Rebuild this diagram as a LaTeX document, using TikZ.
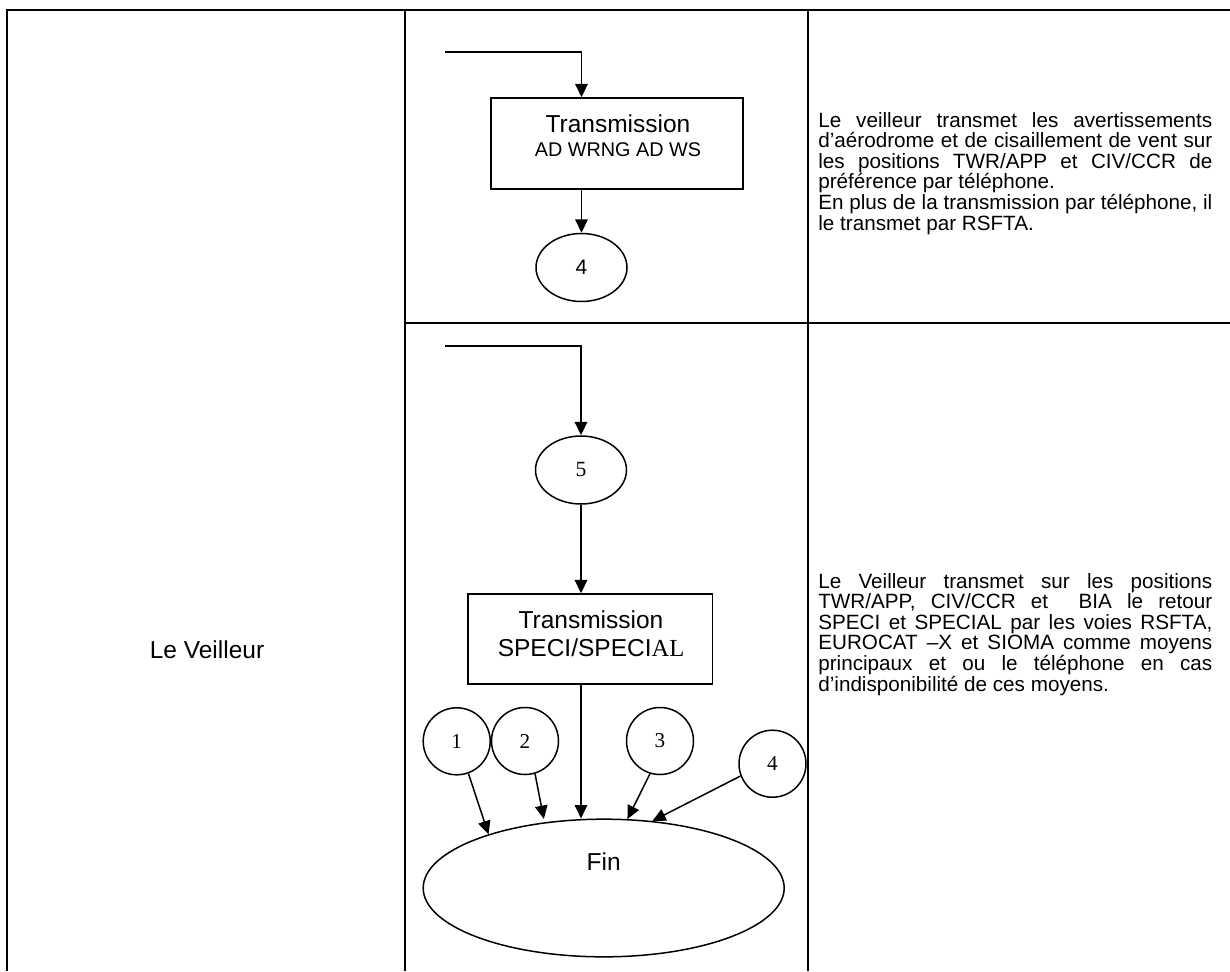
\documentclass[tikz,border=0pt]{standalone}
\usepackage{fontspec}
\setmainfont{Liberation Sans}
\newfontfamily\timesfont{Liberation Serif}
\usetikzlibrary{shapes.geometric, arrows.meta, positioning}
\tolerance=10000
\hbadness=10000

\begin{document}
\begin{tikzpicture}[
    x=0.6pt, y=-0.6pt,
    grid_line/.style={line width=1.5pt},
    flow_arrow/.style={line width=0.9pt, -{Triangle[length=8pt, width=7.5pt]}},
    proc_box/.style={rectangle, draw, line width=0.9pt, inner sep=0pt},
    num_oval/.style={ellipse, draw, line width=0.9pt, minimum width=54.6pt, minimum height=40.8pt, inner sep=0pt, font=\fontsize{12.6}{14}\selectfont},
    num_circle/.style={circle, draw, line width=0.9pt, minimum size=40.2pt, inner sep=0pt, font=\timesfont\fontsize{12.7}{14}\selectfont},
    big_text/.style={font=\fontsize{14.7}{16.8}\selectfont, align=center, inner sep=0pt},
    col_text/.style={anchor=base west, text width=236.4pt, align=justify, inner sep=0pt, font=\fontsize{12.4}{12.36}\selectfont}
]
\useasboundingbox (0,0) rectangle (1230,971);

% Table grid
\draw[grid_line] (1230,10) -- (7,10) -- (7,971);
\draw[grid_line] (405,10) -- (405,971);
\draw[grid_line] (808,10) -- (808,971);
\draw[grid_line] (405,323) -- (1230,323);

% Left column
\node[big_text] (veilleur) at (207,650) {Le Veilleur};

% First row: AD WRNG / AD WS
\coordinate (inA) at (445,52);
\node[proc_box, minimum width=151pt, minimum height=54.6pt] (transA) at (617,143.5) {};
\node[big_text] (transAtext) at (618,136) {Transmission\\[-2.2pt]{\fontsize{11.9}{16.8}\selectfont AD WRNG AD WS}};
\node[num_oval] (fourA) at (581.5,267.5) {4};

\draw[flow_arrow] (inA) -| (fourA |- transA.north);
\draw[flow_arrow] (fourA |- transA.south) -- (fourA.north);

\node[col_text] (textA) at (818,127) {Le veilleur transmet les avertissements\linebreak
d’aérodrome et de cisaillement de vent sur\linebreak
les positions TWR/APP et CIV/CCR de\linebreak
préférence par téléphone.\par
En plus de la transmission par téléphone, il\linebreak
le transmet par RSFTA.};

% Second row: SPECI / SPECIAL
\coordinate (inB) at (445,346);
\node[num_oval, font=\timesfont\fontsize{13}{14}\selectfont] (five) at (581,470) {5};
\node[proc_box, minimum width=146.8pt, minimum height=54pt] (transB) at (590.3,639) {};
\node[big_text] (transBtext) at (591,634) {Transmission\\SPECI/SPECI{\timesfont AL}};
\node[ellipse, draw, line width=0.9pt, minimum width=216.6pt, minimum height=82.6pt] (fin) at (603.7,888) {};
\node[big_text] (fintext) at (603.7,862) {Fin};

% Return points
\node[num_circle] (ret1) at (456.7,741.3) {1};
\node[num_circle] (ret2) at (525,741) {2};
\node[num_circle] (ret3) at (660,741) {3};
\node[num_circle] (ret4) at (772.5,763.7) {4};

\draw[flow_arrow] (inB) -| (five.north);
\draw[flow_arrow] (five.south) -- (five |- transB.north);
\draw[flow_arrow] (five |- transB.south) -- (five |- fin.north);
\draw[flow_arrow] (ret1.-70) -- (fin.155);
\draw[flow_arrow, shorten >=2pt] (ret2.-73) -- (fin.132);
\draw[flow_arrow] (ret3.-107) -- (fin.71);
\draw[flow_arrow] (ret4.-159) -- (fin.54);

\node[col_text] (textB) at (818,588) {Le Veilleur transmet sur les positions\linebreak
TWR/APP, CIV/CCR et \ BIA le retour\linebreak
SPECI et SPECIAL par les voies RSFTA,\linebreak
EUROCAT –X et SIOMA comme moyens\linebreak
principaux et ou le téléphone en cas\linebreak
d’indisponibilité de ces moyens.};

\end{tikzpicture}
\end{document}
